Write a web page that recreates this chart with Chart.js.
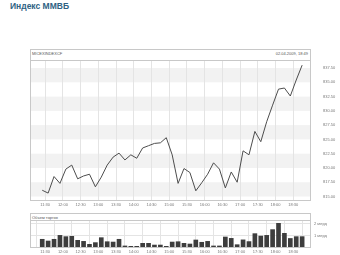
<!DOCTYPE html>
<html><head><meta charset="utf-8">
<script src="https://cdn.jsdelivr.net/npm/chart.js@4/dist/chart.umd.min.js"></script>
<style>
html,body{margin:0;padding:0;background:#fff;width:340px;height:255px;overflow:hidden;font-family:"Liberation Sans",Arial,sans-serif;}
.t{position:absolute;white-space:nowrap;line-height:1;}
canvas{position:absolute;left:0;}
</style></head><body>
<div class="t" id="title" style="left:10px;top:2px;font-size:8.5px;font-weight:bold;color:#2f6283;">Индекс ММВБ</div>
<div class="t" style="left:32px;top:52px;font-size:4px;color:#555;">MICEXINDEXCF</div>
<div class="t" style="right:32px;top:52px;font-size:4px;color:#555;">02.04.2009, 18:49</div>
<div class="t" style="left:32px;top:215.5px;font-size:4px;color:#555;">Объем торгов</div>
<canvas id="main" width="340" height="162" style="top:49px"></canvas>
<canvas id="vol" width="340" height="42" style="top:213px"></canvas>
<script>
const pointTimes = ['11:25','11:35','11:45','11:55','12:05','12:15','12:25','12:35','12:45','12:55',
 '13:05','13:15','13:25','13:35','13:45','13:55','14:05','14:15','14:25','14:35','14:45','14:55',
 '15:05','15:15','15:25','15:35','15:45','15:55','16:05','16:15','16:25','16:35','16:45','16:55',
 '17:05','17:15','17:25','17:35','17:45','17:55','18:05','18:15','18:25','18:35','18:45'];
const indexValues = [816.1,815.6,818.5,817.3,819.8,820.5,818.1,818.6,818.9,816.7,818.4,820.5,821.9,822.6,821.4,822.3,821.7,823.5,823.9,824.3,824.4,825.3,822.3,817.3,819.9,819.2,816.0,817.4,818.9,820.9,819.8,816.5,819.3,817.5,823.0,822.3,826.4,824.6,828.1,831.0,833.8,834.0,832.6,835.4,838.0];
const volumeValues = [0.67,0.52,0.67,1.01,0.90,0.93,0.58,0.49,0.23,0.38,0.81,0.46,0.43,0.67,0.09,0.06,0.06,0.32,0.32,0.17,0.17,0.06,0.43,0.46,0.32,0.26,0.61,0.41,0.49,0.09,0.09,0.87,0.75,0.20,0.62,0.47,1.16,0.95,1.01,1.51,2.06,1.19,0.74,0.90,0.90];
const xTickLabels = ['11:30','12:00','12:30','13:00','13:30','14:00','14:30','15:00','15:30','16:00','16:30','17:00','17:30','18:00','18:30'];
const yTickValues = [815,817.5,820,822.5,825,827.5,830,832.5,835,837.5];
const volTickValues = [1,2];
const volTickLabels = ['1 млрд','2 млрд'];

const toMin = s => { const [h,m] = s.split(':').map(Number); return h*60+m; };
const xMin = 666, xMax = 1140;
const xTicks = xTickLabels.map(toMin);
const tickFont = {family:'"Liberation Sans", Arial, sans-serif', size:4};

const framePlugin = (topExtra) => ({
  id:'frame',
  beforeDraw(chart){
    const {ctx, chartArea:a} = chart;
    if (chart.canvas.id === 'main') {
      const y = chart.scales.y;
      ctx.save(); ctx.fillStyle = '#f2f2f2';
      for (let i = yTickValues.length-1; i > 0; i -= 2) {
        const t = y.getPixelForValue(yTickValues[i]), b = y.getPixelForValue(yTickValues[i-1]);
        ctx.fillRect(a.left, t, a.right-a.left, b-t);
      }
      ctx.restore();
    }
  },
  afterDraw(chart){
    const {ctx, chartArea:a} = chart;
    ctx.save(); ctx.strokeStyle = '#c8c8c8'; ctx.lineWidth = 1;
    ctx.strokeRect(a.left-0.5, a.top-topExtra+0.5, a.right-a.left, a.bottom-a.top+topExtra);
    ctx.beginPath(); ctx.moveTo(a.left-0.5, a.top-0.5); ctx.lineTo(a.right-0.5, a.top-0.5); ctx.stroke();
    ctx.restore();
  }
});

const xScale = (h) => ({
  type:'linear', min:xMin, max:xMax, offset:false,
  afterBuildTicks(s){ s.ticks = xTicks.map(v=>({value:v})); },
  afterFit(s){ s.height = h; },
  ticks:{ autoSkip:false, maxRotation:0, padding:2, font:tickFont, color:'#777',
    callback:(v)=>{ const i = xTicks.indexOf(v); return i>=0 ? xTickLabels[i] : ''; } },
  grid:{ color:'#e4e4e4', drawTicks:false, lineWidth:1 },
  border:{ display:false }
});

new Chart(document.getElementById('main'), {
  type:'line',
  data:{ datasets:[{ data: pointTimes.map((t,i)=>({x:toMin(t), y:indexValues[i]})),
    borderColor:'#4d4d4d', borderWidth:1, pointRadius:0, tension:0, fill:false }]},
  options:{
    responsive:false, animation:false, events:[],
    layout:{ padding:{ left:31, top:12, right:0, bottom:0 } },
    plugins:{ legend:{display:false}, tooltip:{enabled:false} },
    scales:{
      x: xScale(11),
      y:{ position:'right', min:814.39, max:838.73,
        afterBuildTicks(s){ s.ticks = yTickValues.map(v=>({value:v})); },
        afterFit(s){ s.width = 29; },
        ticks:{ padding:4, font:tickFont, color:'#777', callback:v=>Number(v).toFixed(2) },
        grid:{ display:false }, border:{ display:false } }
    }
  },
  plugins:[framePlugin(12)]
});

new Chart(document.getElementById('vol'), {
  type:'bar',
  data:{ datasets:[{ data: pointTimes.map((t,i)=>({x:toMin(t), y:volumeValues[i]})),
    backgroundColor:'#3d3d3d', borderColor:'#2a2a2a', borderWidth:0, barThickness:4 }]},
  options:{
    responsive:false, animation:false, events:[],
    layout:{ padding:{ left:31, top:8, right:0, bottom:0 } },
    plugins:{ legend:{display:false}, tooltip:{enabled:false} },
    scales:{
      x: xScale(8),
      y:{ position:'right', min:0, max:2.26,
        afterBuildTicks(s){ s.ticks = volTickValues.map(v=>({value:v})); },
        afterFit(s){ s.width = 29; },
        ticks:{ padding:3, font:tickFont, color:'#777',
          callback:v=>{ const i = volTickValues.indexOf(v); return i>=0 ? volTickLabels[i] : ''; } },
        grid:{ color:'#e4e4e4', drawTicks:false }, border:{ display:false } }
    }
  },
  plugins:[framePlugin(8)]
});
</script>
</body></html>
